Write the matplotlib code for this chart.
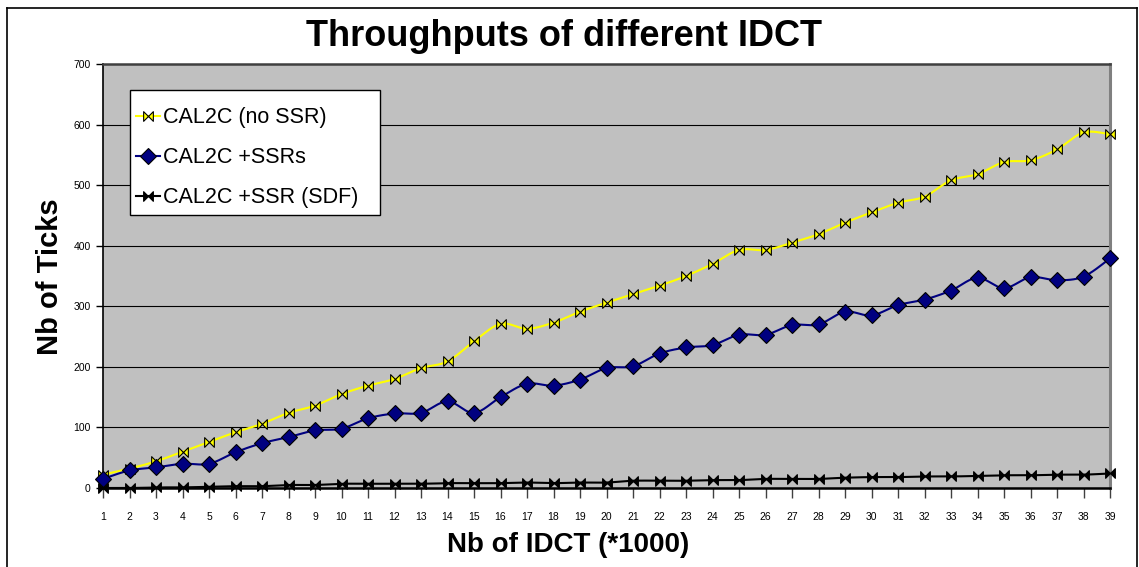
import numpy as np
import matplotlib
matplotlib.use("Agg")
import matplotlib.pyplot as plt
from matplotlib.path import Path
from matplotlib.lines import Line2D
from matplotlib.patches import Rectangle

plt.rcParams['font.family'] = ['Liberation Sans', 'DejaVu Sans']

# IDCT count (thousands)
idct = list(range(1, 40))

# Ticks per configuration
no_ssr = [22, 32, 44, 60, 76, 92, 106, 124, 136, 155,
          169, 180, 198, 209, 242, 271, 263, 273, 291, 306,
          320, 334, 350, 370, 393, 393, 405, 419, 438, 455,
          471, 481, 508, 518, 538, 541, 559, 587, 584]
with_ssrs = [15, 29, 34, 40, 40, 59, 74, 84, 95, 98,
             115, 123, 124, 143, 124, 150, 172, 169, 179, 198,
             201, 222, 232, 236, 253, 253, 269, 270, 291, 285,
             302, 311, 326, 347, 330, 348, 343, 349, 379]
ssr_sdf = [0, 0, 1, 1, 2, 3, 3, 5, 5, 7,
           7, 7, 7, 8, 8, 8, 9, 8, 9, 9,
           12, 12, 12, 13, 13, 15, 15, 15, 17, 18,
           18, 19, 19, 20, 21, 21, 22, 22, 24]

labels = ["CAL2C (no SSR)", "CAL2C +SSRs", "CAL2C +SSR (SDF)"]
x_ticks = [str(i) for i in idct]
y_ticks = [0, 100, 200, 300, 400, 500, 600, 700]

W, H = 1139, 567


def smooth(xs, ys, n=16):
    """Smoothed line through the points (cubic Bezier, Catmull-Rom tangents)."""
    xs = np.asarray(xs, float)
    ys = np.asarray(ys, float)
    px = np.concatenate([[xs[0]], xs, [xs[-1]]])
    py = np.concatenate([[ys[0]], ys, [ys[-1]]])
    outx, outy = [], []
    t = np.linspace(0, 1, n, endpoint=False)
    for i in range(1, len(px) - 2):
        p0 = np.array([px[i], py[i]])
        p3 = np.array([px[i + 1], py[i + 1]])
        c1 = p0 + (np.array([px[i + 1], py[i + 1]]) - np.array([px[i - 1], py[i - 1]])) / 6
        c2 = p3 - (np.array([px[i + 2], py[i + 2]]) - np.array([px[i], py[i]])) / 6
        b = ((1 - t) ** 3)[:, None] * p0 + (3 * (1 - t) ** 2 * t)[:, None] * c1 \
            + (3 * (1 - t) * t ** 2)[:, None] * c2 + (t ** 3)[:, None] * p3
        outx.extend(b[:, 0])
        outy.extend(b[:, 1])
    outx.append(xs[-1])
    outy.append(ys[-1])
    return outx, outy


def fx(px):
    return px / W


def fy(py):
    return 1 - py / H


# bow-tie marker
bowtie = Path([(-1, -1), (-1, 1), (1, -1), (1, 1), (-1, -1)],
              [Path.MOVETO, Path.LINETO, Path.LINETO, Path.LINETO, Path.CLOSEPOLY])

fig = plt.figure(figsize=(W / 100, H / 100), dpi=100)
ax = fig.add_axes([fx(103), fy(488), fx(1110 - 103), (488 - 64) / H])
ax.set_facecolor('#C0C0C0')

series = [
    (no_ssr, '#FFFF00', bowtie, '#FFFF00', 7),
    (with_ssrs, '#000080', 'D', '#000080', 8),
    (ssr_sdf, '#000000', bowtie, '#000000', 7),
]
handles = []
for (vals, col, mk, fc, ms), lab in zip(series, labels):
    sx, sy = smooth(idct, vals)
    ax.plot(sx, sy, color=col, lw=1.5, zorder=3)
    ax.plot(idct, vals, ls='none', marker=mk, markersize=ms,
            markerfacecolor=fc, markeredgecolor='black', markeredgewidth=0.8,
            zorder=4, clip_on=False)
    handles.append(Line2D([], [], color=col, lw=1.5, marker=mk, markersize=ms,
                          markerfacecolor=fc, markeredgecolor='black',
                          markeredgewidth=0.8))

ax.set_xlim(1, 39)
ax.set_ylim(0, 700)
ax.set_xticks(idct)
ax.set_xticklabels(x_ticks, fontsize=7.5)
ax.set_yticks(y_ticks)
ax.set_yticklabels([str(v) for v in y_ticks], fontsize=7.5)
ax.tick_params(axis='x', length=7, width=1, color='#404040', pad=10)
ax.tick_params(axis='y', length=5, width=1, color='black', pad=4)
ax.yaxis.grid(True, color='black', lw=0.8)
ax.set_axisbelow(True)

ax.spines['left'].set_color('black')
ax.spines['left'].set_linewidth(1.2)
ax.spines['bottom'].set_color('black')
ax.spines['bottom'].set_linewidth(1.8)
ax.spines['top'].set_color('#404040')
ax.spines['top'].set_linewidth(1.8)
ax.spines['right'].set_color('#808080')
ax.spines['right'].set_linewidth(2.2)

fig.text(fx(564), fy(37), "Throughputs of different IDCT",
         fontsize=26, fontweight='bold', ha='center', va='center')
fig.text(fx(50), fy(277), "Nb of Ticks", fontsize=21,
         fontweight='bold', ha='center', va='center', rotation=90)
fig.text(fx(568), fy(545), "Nb of IDCT (*1000)", fontsize=20,
         fontweight='bold', ha='center', va='center')

# legend box
fig.add_artist(Rectangle((fx(130), fy(215)), fx(250), 125 / H,
                         transform=fig.transFigure, facecolor='white',
                         edgecolor='black', lw=1.0, zorder=5))
leg = fig.legend(handles, labels, loc='upper left',
                 bbox_to_anchor=(fx(136), fy(107.5)), bbox_transform=fig.transFigure,
                 borderaxespad=0, borderpad=0, fontsize=15.5, frameon=False,
                 handlelength=1.1, handletextpad=0.15, labelspacing=0.88)
leg.set_zorder(6)

# outer chart frame
for (x0, y0, x1, y1) in [(7, 8, 7, H), (7, 8, 1137, 8), (1137, 8, 1137, H)]:
    fig.add_artist(Line2D([fx(x0), fx(x1)], [fy(y0), fy(y1)],
                          color='black', lw=1.2, transform=fig.transFigure))

fig.savefig("out.png", dpi=100)
